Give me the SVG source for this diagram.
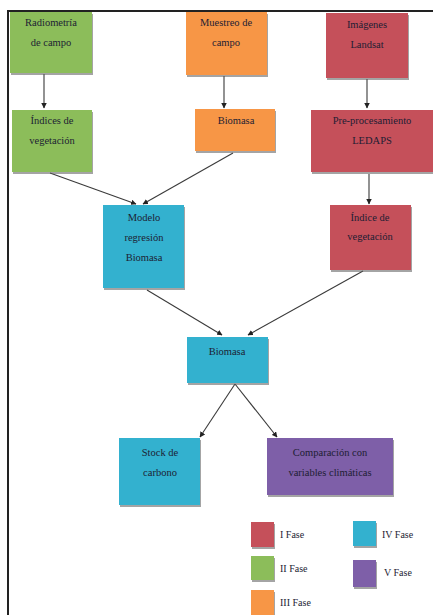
<svg xmlns="http://www.w3.org/2000/svg" width="433" height="615" viewBox="0 0 433 615">
<style>
text{font-family:"Liberation Serif","Times New Roman",serif;font-size:10.5px;fill:#1d1d33;text-anchor:middle}
.lg{text-anchor:start;font-size:10px}
.sh{fill:#5a5a5a;opacity:0.55}
.g{fill:#8cbd5a}.o{fill:#f79646}.r{fill:#c5505a}.b{fill:#33b1cf}.p{fill:#7e5fa8}
.c line{stroke:#3a3a3a;stroke-width:1.1;marker-end:url(#ah)}
</style>
<defs>
<marker id="ah" viewBox="0 0 10 10" refX="9" refY="5" markerWidth="5" markerHeight="5" orient="auto"><path d="M0,0L10,5L0,10z" fill="#222"/></marker>
</defs>
<rect width="433" height="615" fill="#fff"/>
<path d="M8,615V11H433" fill="none" stroke="#222" stroke-width="2"/>
<g class="c" id="connectors">
<line x1="44" y1="74" x2="44" y2="108"/>
<line x1="224" y1="76" x2="224" y2="108"/>
<line x1="367" y1="79" x2="367" y2="108"/>
<line x1="50" y1="173" x2="136" y2="204"/>
<line x1="233" y1="153" x2="143" y2="204"/>
<line x1="369" y1="174" x2="369" y2="204"/>
<line x1="147" y1="290" x2="222" y2="335"/>
<line x1="363" y1="271" x2="248" y2="335"/>
<line x1="235" y1="384" x2="200" y2="437"/>
<line x1="235" y1="384" x2="277" y2="437"/>
</g>
<g id="n1"><rect class="sh" x="11" y="14" width="82" height="61"/><rect class="g" x="10" y="12" width="82" height="61"/><text x="51" y="26">Radiometría</text><text x="51" y="46">de campo</text></g>
<g id="n2"><rect class="sh" x="187" y="14" width="81" height="63"/><rect class="o" x="186" y="12" width="81" height="63"/><text x="226" y="26">Muestreo de</text><text x="226" y="46">campo</text></g>
<g id="n3"><rect class="sh" x="327" y="15" width="82" height="65"/><rect class="r" x="326" y="13" width="82" height="65"/><text x="367" y="28">Imágenes</text><text x="367" y="48">Landsat</text></g>
<g id="n4"><rect class="sh" x="13" y="112" width="80" height="62"/><rect class="g" x="12" y="110" width="80" height="62"/><text x="52" y="124">Índices de</text><text x="52" y="144">vegetación</text></g>
<g id="n5"><rect class="sh" x="196" y="111" width="80" height="42"/><rect class="o" x="195" y="109" width="80" height="42"/><text x="236" y="124">Biomasa</text></g>
<g id="n6"><rect class="sh" x="312" y="112" width="121" height="62"/><rect class="r" x="311" y="110" width="122" height="62"/><text x="372" y="124">Pre-procesamiento</text><text x="372" y="144">LEDAPS</text></g>
<g id="n7"><rect class="sh" x="104" y="207" width="81" height="83"/><rect class="b" x="103" y="205" width="81" height="83"/><text x="144" y="221">Modelo</text><text x="144" y="241">regresión</text><text x="144" y="261">Biomasa</text></g>
<g id="n8"><rect class="sh" x="331" y="207" width="81" height="65"/><rect class="r" x="330" y="205" width="81" height="65"/><text x="370" y="221">Índice de</text><text x="370" y="240">vegetación</text></g>
<g id="n9"><rect class="sh" x="188" y="339" width="81" height="46"/><rect class="b" x="187" y="337" width="81" height="46"/><text x="227" y="355">Biomasa</text></g>
<g id="n10"><rect class="sh" x="120" y="440" width="81" height="67"/><rect class="b" x="119" y="438" width="81" height="67"/><text x="160" y="456">Stock de</text><text x="160" y="476">carbono</text></g>
<g id="n11"><rect class="sh" x="268" y="440" width="126" height="57"/><rect class="p" x="267" y="438" width="126" height="57"/><text x="330" y="456">Comparación con</text><text x="330" y="476">variables climáticas</text></g>
<g id="legend">
<rect class="sh" x="252" y="524" width="23" height="25"/><rect class="r" x="251" y="522" width="23" height="25"/><text class="lg" x="280" y="538">I Fase</text>
<rect class="sh" x="252" y="558" width="23" height="24"/><rect class="g" x="251" y="556" width="23" height="24"/><text class="lg" x="280" y="572">II Fase</text>
<rect class="sh" x="252" y="592" width="23" height="24"/><rect class="o" x="251" y="590" width="23" height="25"/><text class="lg" x="280" y="606">III Fase</text>
<rect class="sh" x="354" y="523" width="23" height="25"/><rect class="b" x="353" y="521" width="23" height="25"/><text class="lg" x="382" y="538">IV Fase</text>
<rect class="sh" x="354" y="562" width="23" height="27"/><rect class="p" x="353" y="560" width="23" height="27"/><text class="lg" x="384" y="576">V Fase</text>
</g>
</svg>
